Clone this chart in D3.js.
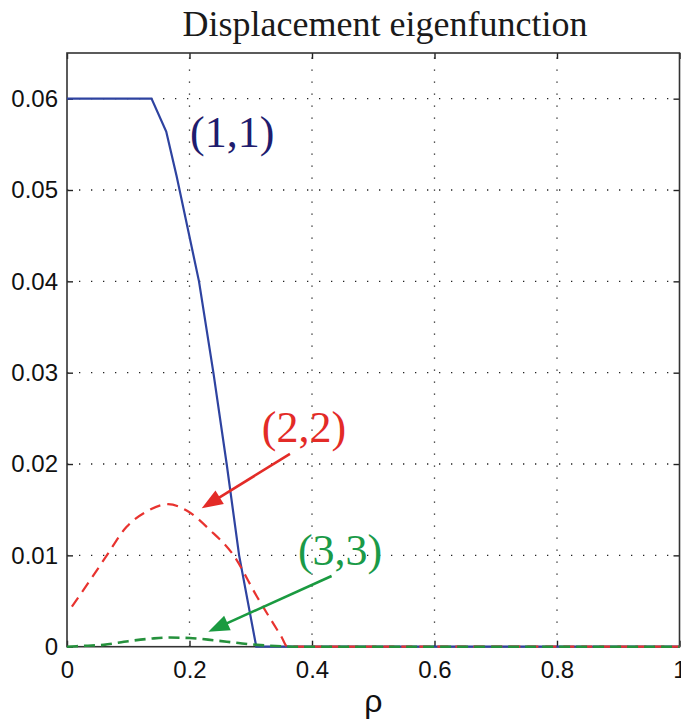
<!DOCTYPE html>
<html>
<head>
<meta charset="utf-8">
<script src="https://cdn.jsdelivr.net/npm/d3@7"></script>
<style>
  html, body { margin: 0; padding: 0; background: #fff; }
  svg { display: block; }
</style>
</head>
<body>
<svg id="chart" width="681" height="722"></svg>
<script>
// Radial displacement eigenfunctions for modes (1,1), (2,2), (3,3) vs rho
const xTicks = [0, 0.2, 0.4, 0.6, 0.8, 1];
const xTickLabels = ["0", "0.2", "0.4", "0.6", "0.8", "1"];
const yTicks = [0, 0.01, 0.02, 0.03, 0.04, 0.05, 0.06];
const yTickLabels = ["0", "0.01", "0.02", "0.03", "0.04", "0.05", "0.06"];

const rho11 = [0, 0.138, 0.162, 0.179, 0.2155, 0.239, 0.2607, 0.281, 0.309, 1];
const xi11  = [0.06, 0.06, 0.0564, 0.0515, 0.040, 0.030, 0.020, 0.010, 0, 0];

const rho22 = [0.008, 0.038, 0.065, 0.097, 0.13, 0.165, 0.198, 0.233, 0.272, 0.31, 0.35, 0.36, 1];
const xi22  = [0.0044, 0.0073, 0.0100, 0.0131, 0.0148, 0.0156, 0.0148, 0.0128, 0.0100, 0.0055, 0.0011, 0, 0];

const rho33 = [0, 0.03, 0.06, 0.10, 0.14, 0.168, 0.20, 0.24, 0.28, 0.31, 0.35, 0.38, 1];
const xi33  = [0, 0.0001, 0.0002, 0.0006, 0.0009, 0.0010, 0.00095, 0.0007, 0.0004, 0.0002, 0.00005, 0, 0];

// mode labels: text, anchor (rho, xi), arrow from -> to (data units)
const modeLabels = ["(1,1)", "(2,2)", "(3,3)"];
const labelRho = [0.2008, 0.318, 0.377];
const labelXi  = [0.0547, 0.02245, 0.00895];
const arrowFrom = [null, [0.364, 0.0211], [0.432, 0.00774]];
const arrowTo   = [null, [0.220, 0.01516], [0.2307, 0.00164]];

const margin = { left: 67, right: 1.5, top: 53, bottom: 75.3 };
const W = 681, H = 722;
const svg = d3.select("#chart");

const x = d3.scaleLinear().domain([0, 1]).range([margin.left, W - margin.right]);
const y = d3.scaleLinear().domain([0, 0.065]).range([H - margin.bottom, margin.top]);

const x0 = x(0), x1 = x(1), y0 = y(0), y1 = y(0.065);

// grid
const grid = svg.append("g").attr("stroke", "#222").attr("stroke-width", 1.3)
  .attr("stroke-dasharray", "1.3,10.7");
grid.selectAll("line.gx").data(xTicks.slice(1, -1)).join("line")
  .attr("x1", d => x(d)).attr("x2", d => x(d)).attr("y1", y0).attr("y2", y1);
grid.selectAll("line.gy").data(yTicks.slice(1)).join("line")
  .attr("x1", x0).attr("x2", x1).attr("y1", d => y(d)).attr("y2", d => y(d));

// axes with inward ticks
const tickLen = 6;
const axisFont = "'Liberation Sans', Arial, sans-serif";
const xAxis = svg.append("g").attr("transform", `translate(0,${y0})`)
  .call(d3.axisBottom(x).tickValues(xTicks).tickFormat((d, i) => xTickLabels[i])
    .tickSizeInner(-tickLen).tickSizeOuter(0).tickPadding(14));
const yAxis = svg.append("g").attr("transform", `translate(${x0},0)`)
  .call(d3.axisLeft(y).tickValues(yTicks).tickFormat((d, i) => yTickLabels[i])
    .tickSizeInner(-tickLen).tickSizeOuter(0).tickPadding(9));
const xTop = svg.append("g").attr("transform", `translate(0,${y1})`)
  .call(d3.axisTop(x).tickValues(xTicks).tickFormat("").tickSizeInner(-tickLen).tickSizeOuter(0));
const yRight = svg.append("g").attr("transform", `translate(${x1},0)`)
  .call(d3.axisRight(y).tickValues(yTicks).tickFormat("").tickSizeInner(-tickLen).tickSizeOuter(0));
[xAxis, yAxis, xTop, yRight].forEach(g => {
  g.select(".domain").remove();
  g.selectAll("line").attr("stroke", "#222").attr("stroke-width", 1.4);
  g.selectAll("text").attr("fill", "#111").style("font-family", axisFont).style("font-size", "24px");
});
xAxis.selectAll("text").attr("dy", "0.71em");

// frame
svg.append("rect").attr("x", x0).attr("y", y1).attr("width", x1 - x0).attr("height", y0 - y1)
  .attr("fill", "none").attr("stroke", "#333").attr("stroke-width", 1.6);

// curves
const line = d3.line().x(d => x(d[0])).y(d => y(d[1]));
const smooth = d3.line().x(d => x(d[0])).y(d => y(d[1])).curve(d3.curveMonotoneX);

svg.append("path").datum(d3.zip(rho11, xi11)).attr("d", line)
  .attr("fill", "none").attr("stroke", "#2e43a0").attr("stroke-width", 2.2);
svg.append("path").datum(d3.zip(rho22, xi22)).attr("d", smooth)
  .attr("fill", "none").attr("stroke", "#e8332f").attr("stroke-width", 2.2)
  .attr("stroke-dasharray", "11,7");
svg.append("path").datum(d3.zip(rho33, xi33)).attr("d", smooth)
  .attr("fill", "none").attr("stroke", "#25913c").attr("stroke-width", 2.6)
  .attr("stroke-dasharray", "11,6");

// mode labels
const labelColors = ["#1f1c6e", "#e32b27", "#1a9a48"];
const arrowColors = [null, "#e32b27", "#1a9a40"];
svg.selectAll("text.mode").data(modeLabels).join("text")
  .attr("class", "mode")
  .attr("x", (d, i) => x(labelRho[i])).attr("y", (d, i) => y(labelXi[i]))
  .attr("fill", (d, i) => labelColors[i])
  .style("font-family", "'Liberation Serif', 'Times New Roman', serif")
  .style("font-size", "44px")
  .text(d => d);

// arrows
const headLen = 21, headHalf = 8;
modeLabels.forEach((m, i) => {
  if (!arrowFrom[i]) return;
  const [fx, fy] = [x(arrowFrom[i][0]), y(arrowFrom[i][1])];
  const [tx, ty] = [x(arrowTo[i][0]), y(arrowTo[i][1])];
  const dx = tx - fx, dy = ty - fy, L = Math.hypot(dx, dy);
  const ux = dx / L, uy = dy / L;
  const bx = tx - ux * headLen, by = ty - uy * headLen;
  svg.append("line").attr("x1", fx).attr("y1", fy).attr("x2", bx + ux * 2).attr("y2", by + uy * 2)
    .attr("stroke", arrowColors[i]).attr("stroke-width", 2.6);
  svg.append("path")
    .attr("d", `M${tx},${ty}L${bx - uy * headHalf},${by + ux * headHalf}L${bx + uy * headHalf},${by - ux * headHalf}Z`)
    .attr("fill", arrowColors[i]);
});

// title and x label
svg.append("text").attr("x", 385).attr("y", 36).attr("text-anchor", "middle")
  .attr("fill", "#1a1a1a")
  .style("font-family", "'Liberation Serif', 'Times New Roman', serif").style("font-size", "36px")
  .text("Displacement eigenfunction");
svg.append("text").attr("x", (x0 + x1) / 2).attr("y", 712).attr("text-anchor", "middle")
  .attr("fill", "#111")
  .style("font-family", axisFont).style("font-size", "32px")
  .text("ρ");
</script>
</body>
</html>
